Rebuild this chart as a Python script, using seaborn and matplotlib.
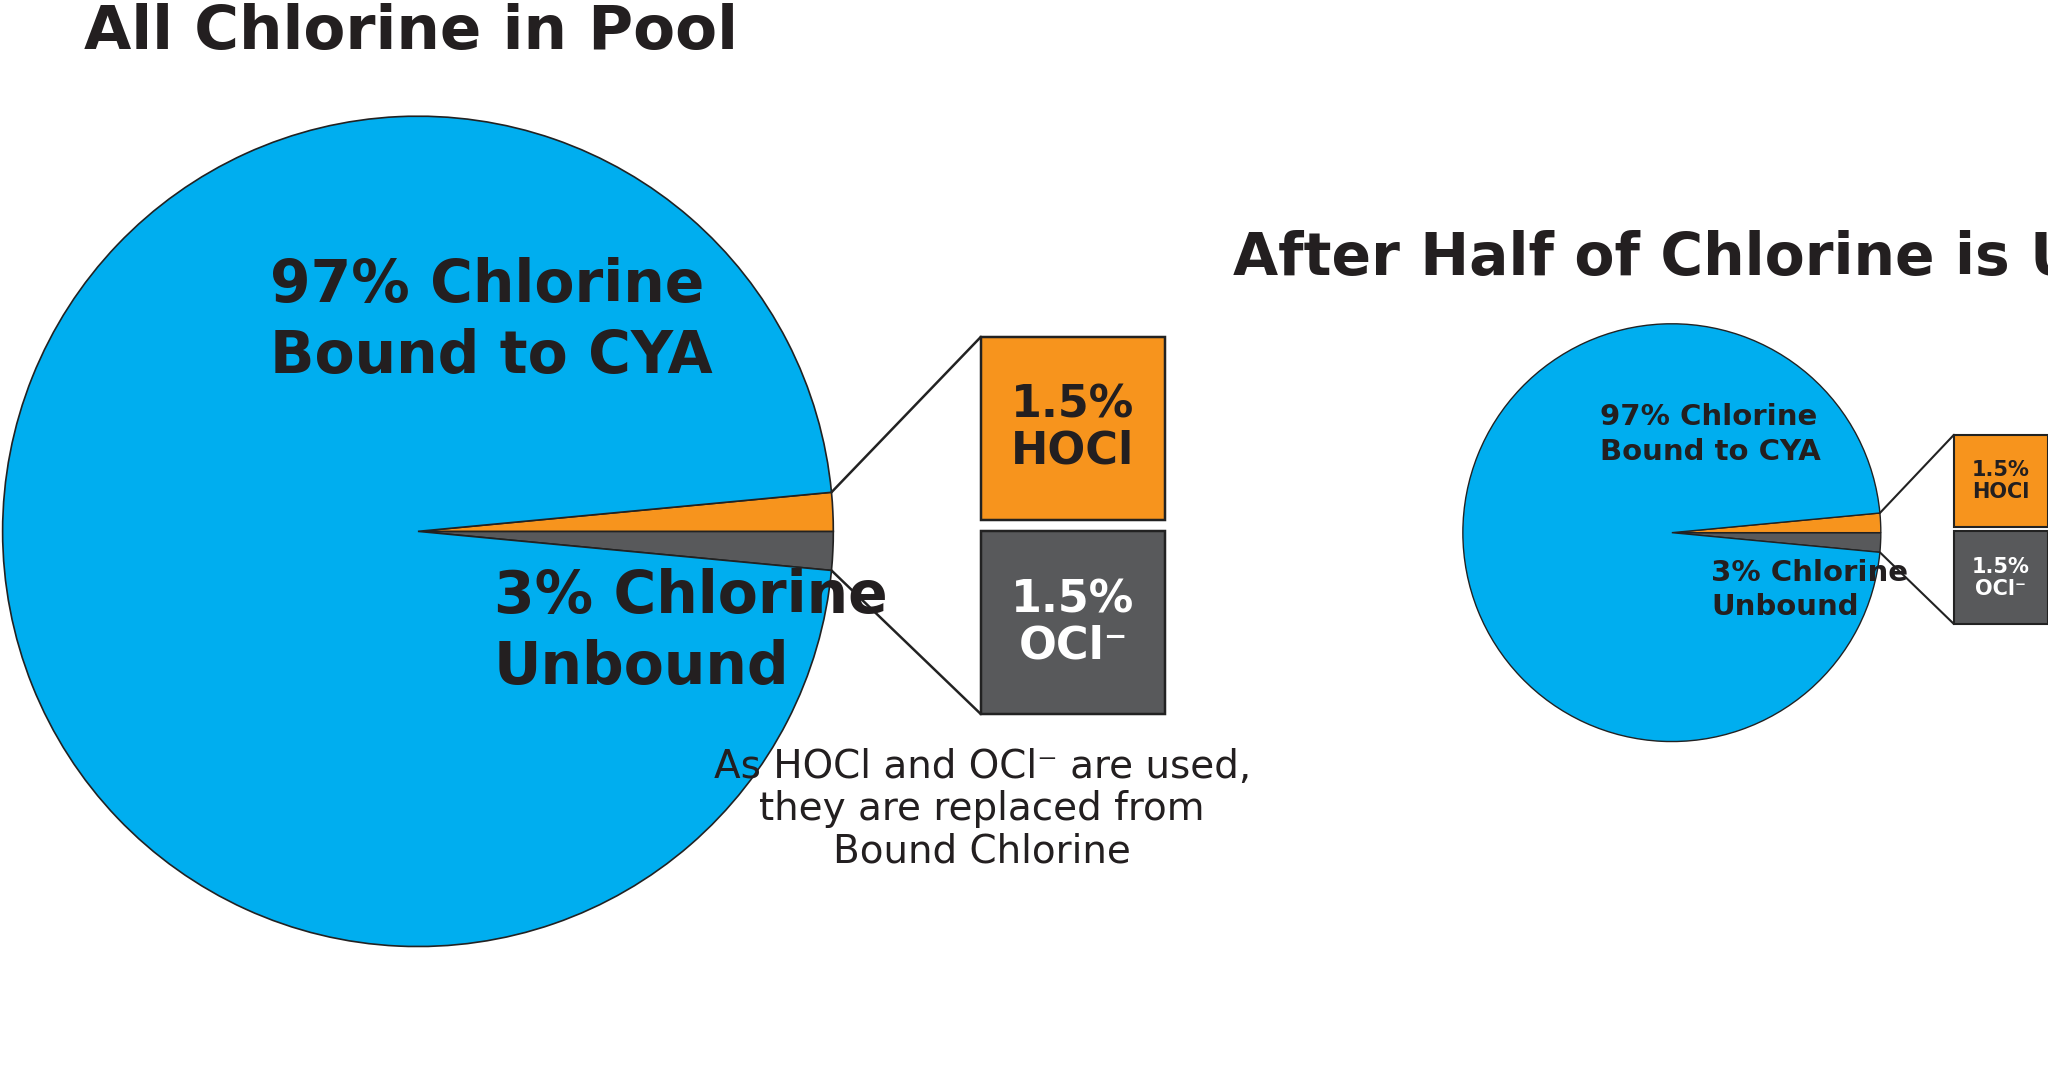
import matplotlib
matplotlib.use("Agg")
import matplotlib.pyplot as plt
import seaborn as sns
import math
from matplotlib.patches import Rectangle

sns.set_theme(style="white")
FONT = ['Liberation Sans Narrow', 'DejaVu Sans']
plt.rcParams['font.family'] = FONT

labels = ["OCl⁻", "HOCl", "Bound to CYA"]
values = [1.5, 1.5, 97]
colors = ["#58595B", "#F7941D", "#00AEEF"]

H = 828
def Y(y): return H - y

fig = plt.figure(figsize=(20.48, 10.81), dpi=100)
ax = fig.add_axes([0, 0, 1, 1])

def panel(cx, cy, r, box_x, box_w, ob, gb, fs_pie, fs_box, t1pos, t2pos, lw):
    ax.pie(values, colors=colors, startangle=-5.4, counterclock=True,
           center=(cx, Y(cy)), radius=r, frame=True,
           wedgeprops=dict(edgecolor='#222222', linewidth=lw))
    for (y0, y1), c, txt in [(ob, colors[1], "1.5%\nHOCl"), (gb, colors[0], "1.5%\nOCl⁻")]:
        ax.add_patch(Rectangle((box_x, Y(y1)), box_w, y1 - y0, facecolor=c,
                               edgecolor='#222222', linewidth=lw * 1.5))
        ax.text(box_x + box_w / 2, Y((y0 + y1) / 2), txt, ha='center', va='center',
                fontsize=fs_box, fontweight='bold',
                color='#231F20' if c == colors[1] else 'white', linespacing=1.1)
    a = math.radians(5.4)
    ex, ey1, ey2 = cx + r * math.cos(a), Y(cy) + r * math.sin(a), Y(cy) - r * math.sin(a)
    ax.plot([ex, box_x], [ey1, Y(ob[0])], color='#222222', lw=lw * 1.5)
    ax.plot([ex, box_x], [ey2, Y(gb[1])], color='#222222', lw=lw * 1.5)
    ax.text(t1pos[0], Y(t1pos[1]), "97% Chlorine\nBound to CYA", ha='left', va='center',
            fontsize=fs_pie, fontweight='bold', color='#231F20', linespacing=1.3)
    ax.text(t2pos[0], Y(t2pos[1]), "3% Chlorine\nUnbound", ha='left', va='center',
            fontsize=fs_pie, fontweight='bold', color='#231F20', linespacing=1.3)

panel(320, 407, 318, 751, 141, (258, 398), (407, 547), 42, 32, (207, 246), (378, 484), 1.2)
panel(1280, 408, 160, 1496, 72, (333, 404), (407, 478), 21, 15, (1225, 333), (1310, 452), 1.0)

ax.text(315, Y(25), "All Chlorine in Pool", ha='center', va='center', fontsize=44,
        fontweight='bold', color='#231F20')
ax.text(1312, Y(198), "After Half of Chlorine is Used", ha='center', va='center', fontsize=42,
        fontweight='bold', color='#231F20')
ax.text(752, Y(620), "As HOCl and OCl⁻ are used,\nthey are replaced from\nBound Chlorine",
        ha='center', va='center', fontsize=28, color='#231F20', linespacing=1.15)

ax.set_xlim(0, 1568); ax.set_ylim(0, H); ax.set_aspect('auto'); ax.axis('off')
fig.savefig("out.png", dpi=100, facecolor='white')
